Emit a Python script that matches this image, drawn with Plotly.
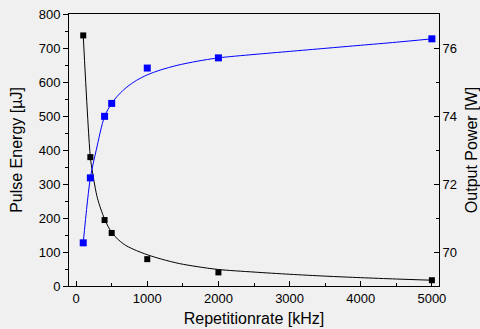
import plotly.graph_objects as go

# Measured data
rep_rate = [100, 200, 400, 500, 1000, 2000, 5000]          # kHz
pulse_energy = [737, 379, 194, 156, 79, 40, 17]             # uJ
output_power = [70.27, 72.18, 73.99, 74.37, 75.41, 75.71, 76.27]  # W

# Fit curves
energy_fit_x = [100, 200, 230, 300, 400, 500, 600, 700, 850, 1000, 1200, 1450, 1700, 2000, 2500, 3000, 3500, 4000, 4500, 5000]
energy_fit_y = [737, 379, 335, 258, 197, 157, 135, 119, 104, 92, 79, 66, 57, 48.5, 41, 34.5, 29, 24.5, 20.5, 17]
power_fit_x = [100, 200, 281, 400, 500, 595, 713, 850, 1000, 1181, 1420, 1700, 2000, 2500, 3000, 3500, 4000, 4500, 5000]
power_fit_y = [70.27, 72.18, 72.98, 73.99, 74.37, 74.62, 74.85, 75.05, 75.21, 75.35, 75.49, 75.61, 75.71, 75.81, 75.9, 75.99, 76.08, 76.17, 76.27]

x_ticks = [0, 1000, 2000, 3000, 4000, 5000]

BG = "#f0f0f0"
FONT = "Liberation Sans, Arial, sans-serif"

fig = go.Figure()
fig.add_trace(go.Scatter(x=energy_fit_x, y=energy_fit_y, mode="lines",
                         line=dict(color="black", width=1, shape="spline", smoothing=0.8),
                         showlegend=False, hoverinfo="skip"))
fig.add_trace(go.Scatter(x=power_fit_x, y=power_fit_y, mode="lines", yaxis="y2",
                         line=dict(color="#0000ff", width=1, shape="spline", smoothing=0.8),
                         showlegend=False, hoverinfo="skip"))
fig.add_trace(go.Scatter(x=rep_rate, y=pulse_energy, mode="markers",
                         marker=dict(symbol="square", size=6, color="black"),
                         showlegend=False))
fig.add_trace(go.Scatter(x=rep_rate, y=output_power, mode="markers", yaxis="y2",
                         marker=dict(symbol="square", size=7, color="#0000ff"),
                         showlegend=False))

fig.update_layout(
    width=480, height=329,
    margin=dict(l=69, r=41, t=14, b=43, autoexpand=False),
    paper_bgcolor=BG, plot_bgcolor=BG,
    font=dict(family=FONT, size=13, color="black"),
    xaxis=dict(range=[-100, 5100], tickvals=x_ticks, ticks="inside", ticklen=5,
               tickwidth=1, tickcolor="black", automargin=False,
               minor=dict(dtick=500, tick0=0, ticks="inside", ticklen=3, tickcolor="black"),
               showline=True, linecolor="black", linewidth=1, mirror=True,
               showgrid=False, zeroline=False,
               title=dict(text="Repetitionrate [kHz]", font=dict(size=16), standoff=8)),
    yaxis=dict(range=[0, 800], dtick=100, tick0=0, ticks="outside", ticklen=5,
               tickwidth=1, tickcolor="black", automargin=False,
               minor=dict(dtick=50, tick0=0, ticks="outside", ticklen=3, tickcolor="black"),
               showline=True, linecolor="black", linewidth=1,
               showgrid=False, zeroline=False,
               title=dict(text="Pulse Energy [µJ]", font=dict(size=16), standoff=12)),
    yaxis2=dict(range=[69, 77], dtick=2, tick0=70, overlaying="y", side="right",
                ticks="inside", ticklen=5, tickwidth=1, tickcolor="black", automargin=False,
                minor=dict(dtick=1, tick0=69, ticks="inside", ticklen=3, tickcolor="black"),
                showline=True, linecolor="black", linewidth=1,
                showgrid=False, zeroline=False,
                title=dict(text="Output Power [W]", font=dict(size=16), standoff=9)),
)

fig.write_html("out.html", config={"displayModeBar": False},
               post_script="document.body.style.margin='0px';document.body.style.background='%s';" % BG)
